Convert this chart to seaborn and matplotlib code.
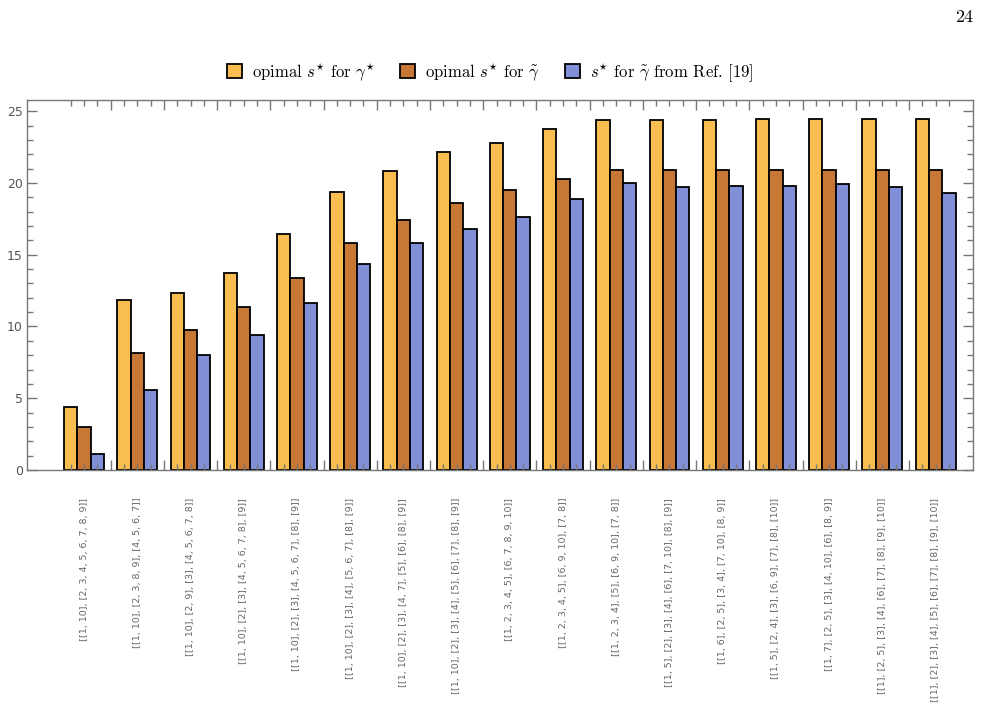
import numpy as np
import pandas as pd
import matplotlib
matplotlib.use("Agg")
import matplotlib.pyplot as plt
import seaborn as sns
from matplotlib.patches import Patch
from matplotlib.ticker import FixedLocator, FixedFormatter, MultipleLocator

# partitions on the x axis
configs = [
    "[[1, 10], [2, 3, 4, 5, 6, 7, 8, 9]]",
    "[[1, 10], [2, 3, 8, 9], [4, 5, 6, 7]]",
    "[[1, 10], [2, 9], [3], [4, 5, 6, 7, 8]]",
    "[[1, 10], [2], [3], [4, 5, 6, 7, 8], [9]]",
    "[[1, 10], [2], [3], [4, 5, 6, 7], [8], [9]]",
    "[[1, 10], [2], [3], [4], [5, 6, 7], [8], [9]]",
    "[[1, 10], [2], [3], [4, 7], [5], [6], [8], [9]]",
    "[[1, 10], [2], [3], [4], [5], [6], [7], [8], [9]]",
    "[[1, 2, 3, 4, 5], [6, 7, 8, 9, 10]]",
    "[[1, 2, 3, 4, 5], [6, 9, 10], [7, 8]]",
    "[[1, 2, 3, 4], [5], [6, 9, 10], [7, 8]]",
    "[[1, 5], [2], [3], [4], [6], [7, 10], [8], [9]]",
    "[[1, 6], [2, 5], [3, 4], [7, 10], [8, 9]]",
    "[[1, 5], [2, 4], [3], [6, 9], [7], [8], [10]]",
    "[[1, 7], [2, 5], [3], [4, 10], [6], [8, 9]]",
    "[[1], [2, 5], [3], [4], [6], [7], [8], [9], [10]]",
    "[[1], [2], [3], [4], [5], [6], [7], [8], [9], [10]]",
]

# bar heights
opt_gamma_star = [4.4, 11.84, 12.33, 13.7, 16.43, 19.36, 20.82, 22.14, 22.77,
                  23.75, 24.37, 24.37, 24.37, 24.44, 24.44, 24.44, 24.44]
opt_gamma_tilde = [3.0, 8.15, 9.75, 11.35, 13.37, 15.8, 17.4, 18.6, 19.5,
                   20.26, 20.9, 20.9, 20.9, 20.9, 20.9, 20.9, 20.9]
ref_gamma_tilde = [1.1, 5.57, 8.0, 9.4, 11.63, 14.35, 15.8, 16.78, 17.6,
                   18.87, 20.0, 19.7, 19.78, 19.78, 19.9, 19.7, 19.3]

series_names = [r"opimal $s^{\star}$ for $\gamma^{\star}$",
                r"opimal $s^{\star}$ for $\tilde{\gamma}$",
                r"$s^{\star}$ for $\tilde{\gamma}$ from Ref. [19]"]
colors = ["#FABE50", "#C67834", "#808FD6"]

df = pd.DataFrame({
    "config": configs * 3,
    "value": opt_gamma_star + opt_gamma_tilde + ref_gamma_tilde,
    "series": [series_names[0]] * 17 + [series_names[1]] * 17 + [series_names[2]] * 17,
})

plt.rcParams["mathtext.fontset"] = "cm"
fig = plt.figure(figsize=(10.05, 7.1), dpi=100)
ax = fig.add_axes([0.027, 0.338, 0.941, 0.521])

sns.barplot(data=df, x="config", y="value", hue="series", order=configs,
            hue_order=series_names, palette=colors, edgecolor="black",
            linewidth=1.3, width=0.75, saturation=1, legend=False, ax=ax)

n = len(configs)
ax.set_xlim(-1.07, n - 1 + 0.7)
ax.set_ylim(0, 25.77)
ax.set_xlabel("")
ax.set_ylabel("")

gray = "#777777"
for s in ax.spines.values():
    s.set_color(gray)
    s.set_linewidth(1.0)

# x ticks: small ticks at bar centres, longer ones between groups
minor_pos = [i + k * 0.25 for i in range(n) for k in (-1, 0, 1)]
minor_lab = [configs[i] if k == 0 else "" for i in range(n) for k in (-1, 0, 1)]
ax.xaxis.set_major_locator(FixedLocator([i + 0.5 for i in range(n - 1)]))
ax.xaxis.set_major_formatter(FixedFormatter([""] * (n - 1)))
ax.xaxis.set_minor_locator(FixedLocator(minor_pos))
ax.xaxis.set_minor_formatter(FixedFormatter(minor_lab))
ax.tick_params(axis="x", which="major", direction="in", length=7, width=1,
               color=gray, top=True, bottom=True)
ax.tick_params(axis="x", which="minor", direction="in", length=4, width=1,
               color=gray, top=True, bottom=True, labelsize=6.8,
               labelcolor="#666666", labelrotation=90, pad=20)

ax.yaxis.set_major_locator(MultipleLocator(5))
ax.yaxis.set_minor_locator(MultipleLocator(1))
ax.tick_params(axis="y", which="major", direction="in", length=7, width=1,
               color=gray, left=True, right=True, labelsize=9,
               labelcolor="#555555", pad=3)
ax.tick_params(axis="y", which="minor", direction="in", length=4, width=1,
               color=gray, left=True, right=True)

handles = [Patch(facecolor=c, edgecolor="black", linewidth=1.3) for c in colors]
fig.legend(handles, series_names, loc="center", bbox_to_anchor=(0.488, 0.898),
           ncol=3, frameon=False, prop={"family": "cmr10", "size": 12},
           handlelength=0.9, handleheight=0.9, handletextpad=0.6,
           columnspacing=1.5)

fig.text(0.968, 0.975, "24", ha="right", va="center", family="cmr10", fontsize=13)

fig.savefig("out.png", dpi=100)
